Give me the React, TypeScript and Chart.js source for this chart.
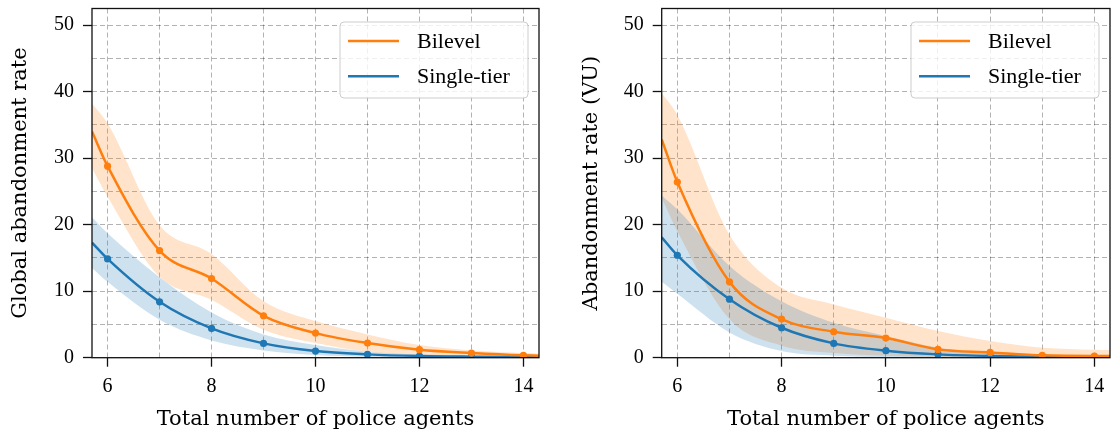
import React, { useEffect, useRef } from 'react';
import { Chart, registerables } from 'chart.js';

Chart.register(...registerables);

// ---------- data ----------
const X = [5.7, 6, 7, 8, 9, 10, 11, 12, 13, 14, 14.3];
const X_GRID = [6, 7, 8, 9, 10, 11, 12, 13, 14];
const Y_GRID = [0, 5, 10, 15, 20, 25, 30, 35, 40, 45, 50];
const X_MIN = 5.7;
const X_MAX = 14.3;
const Y_MIN = 0;
const Y_MAX = 52.5;

const SERIES_LABELS = ['Bilevel', 'Single-tier'];
const X_TITLE = 'Total number of police agents';
const Y_TITLES = ['Global abandonment rate', 'Abandonment rate (VU)'];

// Left panel: global abandonment rate
const BI_G = [34.0, 28.8, 16.1, 11.9, 6.3, 3.7, 2.2, 1.2, 0.7, 0.35, 0.3];
const BI_G_HI = [38.2, 35.2, 19.9, 15.6, 8.5, 5.5, 3.5, 1.9, 1.1, 0.7, 0.6];
const BI_G_LO = [28.5, 24.2, 12.2, 8.7, 4.2, 2.2, 0.9, 0.4, 0.25, 0.1, 0.1];
const SI_G = [17.3, 14.85, 8.4, 4.4, 2.15, 1.0, 0.5, 0.25, 0.15, 0.1, 0.1];
const SI_G_HI = [21.1, 18.7, 12.1, 6.8, 3.5, 1.9, 0.9, 0.5, 0.3, 0.2, 0.2];
const SI_G_LO = [13.5, 11.4, 5.7, 2.6, 1.1, 0.4, 0.15, 0.05, 0.02, 0.01, 0.01];

// Right panel: abandonment rate (VU)
const BI_V = [32.8, 26.4, 11.4, 5.8, 3.9, 2.95, 1.25, 0.8, 0.35, 0.25, 0.25];
const BI_V_HI = [39.8, 36.5, 18.5, 10.5, 8.0, 6.0, 4.0, 2.5, 1.5, 1.2, 1.15];
const BI_V_LO = [24.0, 19.0, 5.8, 1.8, 0.7, 0.3, 0.1, 0.05, 0.02, 0.02, 0.02];
const SI_V = [18.1, 15.4, 8.8, 4.5, 2.15, 1.05, 0.5, 0.25, 0.15, 0.1, 0.1];
const SI_V_HI = [24.4, 22.3, 13.8, 8.5, 5.25, 3.25, 1.5, 0.75, 0.45, 0.3, 0.3];
const SI_V_LO = [11.4, 9.6, 3.8, 1.0, 0.3, 0.1, 0.03, 0.01, 0, 0, 0];

// ---------- style ----------
const ORANGE = '#ff7f0e';
const BLUE = '#1f77b4';
const ORANGE_BAND = 'rgba(255,127,14,0.22)';
const BLUE_BAND = 'rgba(31,119,180,0.22)';
const GRID = 'rgba(0,0,0,0.3)';
const FONT = "'Liberation Serif', 'Times New Roman', serif";
const TITLE_FONT = "'DejaVu Serif', serif";

Chart.defaults.font.family = FONT;
Chart.defaults.color = '#000';

const pts = (ys: number[]) => X.map((x, i) => ({ x, y: ys[i] }));
const radii = X.map((x) => (Number.isInteger(x) ? 3.6 : 0));

const framePlugin = {
  id: 'frame',
  afterDatasetsDraw(chart: any) {
    const { ctx, chartArea: a } = chart;
    ctx.save();
    ctx.strokeStyle = '#111';
    ctx.lineWidth = 1.3;
    ctx.strokeRect(a.left, a.top, a.right - a.left, a.bottom - a.top);
    ctx.restore();
  },
};

const legendPlugin = {
  id: 'boxLegend',
  afterDraw(chart: any) {
    const { ctx, chartArea: a } = chart;
    const w = 188;
    const h = 76;
    const L = a.right - 11 - w;
    const T = a.top + 13.5;
    const r = 4;
    ctx.save();
    ctx.beginPath();
    ctx.moveTo(L + r, T);
    ctx.lineTo(L + w - r, T);
    ctx.arcTo(L + w, T, L + w, T + r, r);
    ctx.lineTo(L + w, T + h - r);
    ctx.arcTo(L + w, T + h, L + w - r, T + h, r);
    ctx.lineTo(L + r, T + h);
    ctx.arcTo(L, T + h, L, T + h - r, r);
    ctx.lineTo(L, T + r);
    ctx.arcTo(L, T, L + r, T, r);
    ctx.closePath();
    ctx.fillStyle = 'rgba(255,255,255,0.8)';
    ctx.fill();
    ctx.strokeStyle = 'rgba(200,200,200,0.9)';
    ctx.lineWidth = 1;
    ctx.stroke();
    const colors = [ORANGE, BLUE];
    SERIES_LABELS.forEach((lab, i) => {
      const y = T + 19 + i * 35.3;
      ctx.beginPath();
      ctx.strokeStyle = colors[i];
      ctx.lineWidth = 2.6;
      ctx.moveTo(L + 8, y);
      ctx.lineTo(L + 59, y);
      ctx.stroke();
      ctx.fillStyle = '#000';
      ctx.font = `22px ${FONT}`;
      ctx.textBaseline = 'middle';
      ctx.textAlign = 'left';
      ctx.fillText(lab, L + 77, y + 1);
    });
    ctx.restore();
  },
};

type Panel = {
  bi: number[]; biHi: number[]; biLo: number[];
  si: number[]; siHi: number[]; siLo: number[];
  yTitle: string; yAxisWidth: number; padRight: number; yTitlePad: number;
};

function makeConfig(p: Panel): any {
  const band = (ys: number[], fill: any, color: string, order: number) => ({
    data: pts(ys),
    borderWidth: 0,
    borderColor: 'rgba(0,0,0,0)',
    backgroundColor: color,
    pointRadius: 0,
    fill,
    order,
    cubicInterpolationMode: 'monotone',
  });
  const line = (ys: number[], color: string, label: string) => ({
    label,
    data: pts(ys),
    borderColor: color,
    backgroundColor: color,
    borderWidth: 2.5,
    pointRadius: radii,
    pointBorderWidth: 0,
    pointBackgroundColor: color,
    fill: false,
    order: 1,
    cubicInterpolationMode: 'monotone',
  });
  return {
    type: 'line',
    data: {
      datasets: [
        band(p.biHi, false, ORANGE_BAND, 3),
        band(p.biLo, '-1', ORANGE_BAND, 3),
        band(p.siHi, false, BLUE_BAND, 2),
        band(p.siLo, '-1', BLUE_BAND, 2),
        line(p.bi, ORANGE, SERIES_LABELS[0]),
        line(p.si, BLUE, SERIES_LABELS[1]),
      ],
    },
    options: {
      responsive: false,
      animation: false,
      events: [],
      layout: { padding: { left: 0, right: p.padRight, top: 8.5, bottom: 0 } },
      plugins: { legend: { display: false }, tooltip: { enabled: false } },
      scales: {
        x: {
          type: 'linear',
          min: X_MIN,
          max: X_MAX,
          afterBuildTicks: (s: any) => { s.ticks = X_GRID.map((v) => ({ value: v })); },
          afterFit: (s: any) => { s.height = 79.3; s.paddingLeft = 0; s.paddingRight = 0; },
          ticks: {
            autoSkip: false,
            maxRotation: 0,
            padding: 8,
            font: { size: 20 },
            color: '#000',
            callback: (v: number) => (v % 2 === 0 ? String(v) : ''),
          },
          grid: {
            color: GRID,
            lineWidth: 1,
            tickLength: 9,
            tickWidth: 1.3,
            tickBorderDash: [],
            tickColor: (c: any) => (c.tick && c.tick.value % 2 === 0 ? '#111' : 'rgba(0,0,0,0)'),
          },
          border: { display: false, dash: [5, 3] },
          title: { display: true, text: X_TITLE, font: { size: 21, family: TITLE_FONT }, color: '#000', padding: { top: 0, bottom: 4.4 } },
        },
        y: {
          type: 'linear',
          min: Y_MIN,
          max: Y_MAX,
          afterBuildTicks: (s: any) => { s.ticks = Y_GRID.map((v) => ({ value: v })); },
          afterFit: (s: any) => { s.width = p.yAxisWidth; s.paddingTop = 0; s.paddingBottom = 0; },
          ticks: {
            padding: 9,
            font: { size: 20 },
            color: '#000',
            callback: (v: number) => (v % 10 === 0 ? String(v) : ''),
          },
          grid: {
            color: GRID,
            lineWidth: 1,
            tickLength: 9,
            tickWidth: 1.3,
            tickBorderDash: [],
            tickColor: (c: any) => (c.tick && c.tick.value % 10 === 0 ? '#111' : 'rgba(0,0,0,0)'),
          },
          border: { display: false, dash: [5, 3] },
          title: { display: true, text: p.yTitle, font: { size: 21, family: TITLE_FONT }, color: '#000', padding: { top: p.yTitlePad, bottom: 0 } },
        },
      },
    },
    plugins: [framePlugin, legendPlugin],
  };
}

const PANELS: Panel[] = [
  { bi: BI_G, biHi: BI_G_HI, biLo: BI_G_LO, si: SI_G, siHi: SI_G_HI, siLo: SI_G_LO, yTitle: Y_TITLES[0], yAxisWidth: 92, padRight: 16, yTitlePad: 8 },
  { bi: BI_V, biHi: BI_V_HI, biLo: BI_V_LO, si: SI_V, siHi: SI_V_HI, siLo: SI_V_LO, yTitle: Y_TITLES[1], yAxisWidth: 106.7, padRight: 1, yTitlePad: 23.5 },
];

function ChartCanvas({ panel, left, width }: { panel: Panel; left: number; width: number }) {
  const ref = useRef<HTMLCanvasElement>(null);
  useEffect(() => {
    if (!ref.current) return;
    const chart = new Chart(ref.current, makeConfig(panel));
    return () => chart.destroy();
  }, [panel]);
  return (
    <canvas
      ref={ref}
      width={width}
      height={437}
      style={{ position: 'absolute', left, top: 0, width, height: 437 }}
    />
  );
}

export default function App() {
  return (
    <div style={{ position: 'absolute', left: 0, top: 0, width: 1111, height: 437, background: '#fff', overflow: 'hidden' }}>
      <ChartCanvas panel={PANELS[0]} left={0} width={555} />
      <ChartCanvas panel={PANELS[1]} left={555} width={556} />
    </div>
  );
}
